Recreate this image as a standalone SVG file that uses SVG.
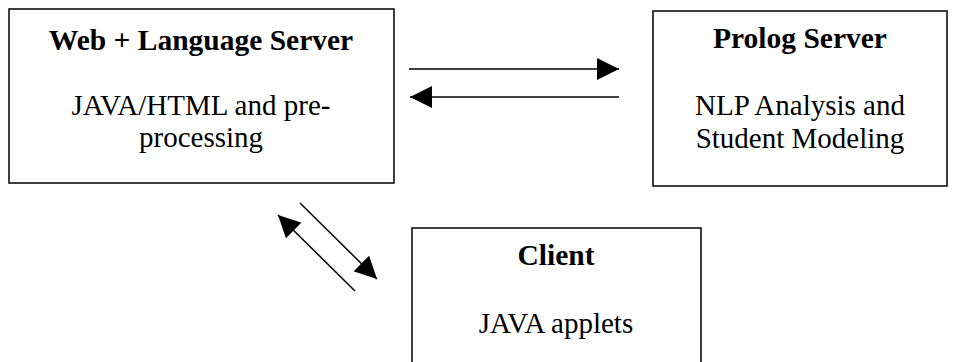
<svg xmlns="http://www.w3.org/2000/svg" width="955" height="362" viewBox="0 0 955 362">
<style>
.box{fill:#fff;stroke:#000;stroke-width:1.5}
.t{font-family:"Liberation Serif","Times New Roman",serif;font-size:29px;text-anchor:middle;fill:#000}
.b{font-weight:bold;font-size:29.5px}
.c{stroke:#000;stroke-width:1.5;fill:none}
</style>
<defs>
<marker id="ah" markerWidth="22" markerHeight="22" refX="20" refY="10" orient="auto" markerUnits="userSpaceOnUse" viewBox="0 0 20 20">
<path d="M0,0 L20,10 L0,20 Z" fill="#000"/>
</marker>
</defs>
<rect width="955" height="362" fill="#fff"/>
<g id="web-server">
<rect class="box" x="9" y="9" width="385" height="174"/>
<text class="t b" x="201" y="50">Web + Language Server</text>
<text class="t" x="201" y="115">JAVA/HTML and pre-</text>
<text class="t" x="201" y="147">processing</text>
</g>
<g id="prolog-server">
<rect class="box" x="653" y="11" width="294" height="175"/>
<text class="t b" x="800" y="48">Prolog Server</text>
<text class="t" x="800" y="115">NLP Analysis and</text>
<text class="t" x="800" y="148">Student Modeling</text>
</g>
<g id="client">
<rect class="box" x="412" y="228" width="289" height="150"/>
<text class="t b" x="556" y="265">Client</text>
<text class="t" x="556" y="333">JAVA applets</text>
</g>
<g id="connectors">
<line class="c" x1="409" y1="69" x2="619" y2="69" marker-end="url(#ah)"/>
<line class="c" x1="619" y1="97" x2="410" y2="97" marker-end="url(#ah)"/>
<line class="c" x1="300" y1="203" x2="377" y2="279" marker-end="url(#ah)"/>
<line class="c" x1="355" y1="291" x2="278" y2="215" marker-end="url(#ah)"/>
</g>
</svg>
